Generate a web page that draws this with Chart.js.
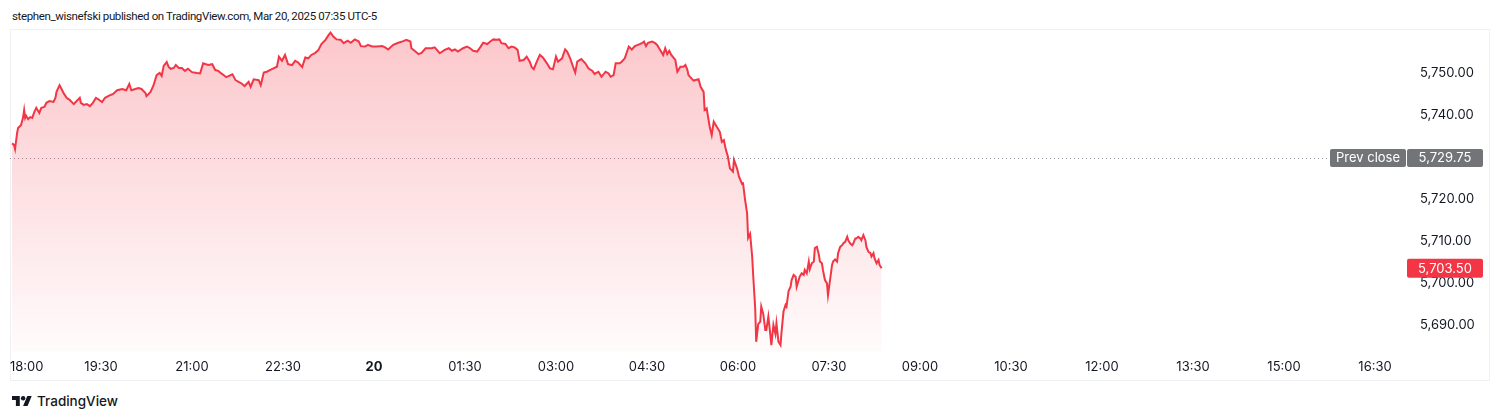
<!DOCTYPE html>
<html>
<head>
<meta charset="utf-8">
<script src="https://cdn.jsdelivr.net/npm/chart.js@4.4.1/dist/chart.umd.min.js"></script>
<style>
  html, body { margin:0; padding:0; background:#fff; width:1500px; height:420px; overflow:hidden;
    font-family: Inter, "Noto Sans", "DejaVu Sans", sans-serif; color:#131722; }
  #hdr { position:absolute; left:12px; top:9px; font-family: Roboto, Inter, sans-serif; font-size:11.5px; letter-spacing:-0.37px; line-height:14px; white-space:nowrap; }
  #box { position:absolute; left:10px; top:29px; width:1480px; height:352px; border:1px solid #eef0f4; box-sizing:border-box; }
  #wrap { position:absolute; left:10px; top:30px; width:1480px; height:352px; }
  #foot { position:absolute; left:12px; top:393px; height:16px; display:flex; align-items:center; font-size:13.5px; font-weight:500; white-space:nowrap; }
  #foot svg { margin-right:5px; }
</style>
</head>
<body>
<div id="hdr">stephen_wisnefski published on TradingView.com, Mar 20, 2025 07:35 UTC-5</div>
<div id="box"></div>
<div id="wrap"><canvas id="c" width="1480" height="352"></canvas></div>
<div id="foot"><svg width="20" height="10" viewBox="0 4 36 18"><path fill="#131722" d="M14 22H7V11H0V4h14v18zM28 22h-8l7.5-18h8L28 22z"/><circle fill="#131722" cx="20" cy="8" r="4"/></svg>TradingView</div>
<script>
// Minutes since 18:00 (Mar 19) and ES price
const minutes = [2,4,5,7,8,11,13,14,15,16,18,20,22,24,26,29,31,34,36,39,43,45,46,49,51,53,56,59,63,65,69,70,73,76,79,82,85,87,91,94,97,102,106,111,115,118,120,124,127,130,134,135,139,142,145,148,150,152,155,157,159,162,164,167,170,173,176,180,185,188,191,196,200,203,206,209,214,220,223,226,229,232,236,238,241,246,248,251,254,259,264,266,269,272,275,279,282,285,289,292,295,298,302,305,308,312,315,317,320,323,327,330,334,337,341,345,347,351,354,358,363,368,371,374,379,384,389,392,396,397,401,404,407,411,417,420,425,430,434,437,440,443,448,452,455,458,462,465,468,472,475,478,481,484,486,490,493,496,499,502,504,508,511,514,516,518,521,524,527,531,534,537,540,542,546,549,551,554,557,559,561,565,569,572,576,578,582,585,589,592,594,597,599,603,605,608,612,615,618,621,625,627,629,631,635,638,640,643,646,648,650,652,654,658,660,663,666,668,670,671,676,681,683,686,687,689,692,694,696,699,702,704,706,708,710,712,715,716,719,721,724,725,727,729,730,732,734,735,737,738,740,742,743,745,747,748,750,752,753,755,757,758,760,762,763,765,767,768,770,772,773,775,777,778,780,781,783,785,786,788,790,791,793,795,796,798,800,801,803,804,806,808,809,811,813,814,816,818,819,821,823,824,826,828,829,831,833,834,836,837,839,841,842,844,846,847,849,851,852,854,855,857,859,860,862];
const prices = [5733.25,5732.9,5731.9,5735.7,5736.9,5737.6,5739.5,5741.2,5739.3,5739.8,5739.0,5739.5,5739.3,5740.7,5741.7,5740.5,5741.7,5741.9,5742.9,5743.3,5743.1,5744.1,5745.5,5747.1,5746.2,5745.2,5744.1,5743.6,5742.6,5743.1,5744.1,5742.9,5742.4,5742.6,5742.1,5742.9,5744.1,5743.8,5743.1,5744.1,5744.5,5745.0,5745.9,5746.2,5745.9,5747.4,5745.9,5746.2,5746.4,5746.2,5745.2,5744.5,5745.5,5747.1,5749.5,5750.0,5749.3,5751.7,5752.6,5751.4,5751.0,5751.2,5751.9,5751.2,5751.2,5750.5,5751.0,5750.2,5750.0,5749.9,5752.3,5751.9,5752.1,5750.7,5750.5,5749.9,5749.0,5749.7,5748.3,5747.9,5747.5,5746.9,5747.9,5746.7,5748.5,5748.3,5747.1,5750.1,5750.3,5750.9,5751.5,5753.9,5752.9,5754.3,5752.1,5751.9,5752.9,5752.5,5751.4,5753.7,5753.5,5754.3,5754.8,5755.5,5756.9,5757.9,5759.0,5759.6,5758.6,5758.0,5757.9,5757.1,5757.7,5757.2,5758.0,5757.5,5756.4,5756.3,5756.7,5756.3,5756.3,5756.4,5756.1,5755.6,5756.7,5757.2,5757.6,5757.9,5757.5,5755.9,5755.1,5754.5,5754.8,5755.9,5755.9,5756.1,5754.7,5755.5,5755.9,5755.3,5755.6,5755.1,5755.9,5756.3,5755.9,5755.3,5755.1,5756.1,5757.2,5756.9,5757.5,5758.0,5757.9,5758.0,5757.1,5756.9,5755.9,5756.3,5756.1,5755.5,5752.9,5753.1,5753.9,5752.7,5751.4,5750.9,5752.7,5754.3,5753.7,5752.3,5751.1,5750.9,5753.9,5752.7,5753.5,5755.6,5755.1,5753.5,5751.4,5750.1,5752.7,5753.3,5752.3,5751.1,5750.5,5749.8,5750.3,5749.1,5750.3,5749.9,5749.1,5749.5,5752.3,5752.3,5752.7,5753.5,5756.3,5755.6,5756.4,5756.7,5757.1,5757.5,5756.4,5757.2,5757.5,5757.1,5756.7,5755.5,5754.3,5755.9,5754.5,5755.3,5754.3,5753.1,5750.3,5751.5,5751.5,5751.9,5750.7,5749.5,5748.2,5748.5,5746.7,5745.5,5741.2,5741.6,5737.2,5735.2,5738.4,5737.2,5736.0,5733.6,5734.0,5731.7,5730.1,5727.3,5726.5,5729.3,5727.3,5725.3,5723.6,5723.7,5719.8,5716.6,5710.7,5711.7,5706.3,5701.9,5694.0,5686.0,5690.2,5690.8,5694.4,5692.6,5688.8,5688.8,5692.0,5687.6,5685.2,5690.0,5687.9,5690.4,5686.0,5685.2,5688.2,5693.2,5694.8,5694.4,5698.1,5699.1,5700.7,5701.9,5701.5,5699.1,5700.7,5701.5,5702.3,5701.9,5703.1,5702.3,5705.1,5703.3,5704.7,5705.1,5708.3,5708.6,5706.7,5705.1,5704.7,5703.1,5700.7,5699.9,5697.1,5700.7,5704.3,5705.1,5705.6,5705.1,5707.1,5708.6,5709.0,5709.4,5709.8,5711.0,5710.2,5709.4,5709.0,5709.4,5710.6,5710.6,5711.0,5710.6,5710.2,5711.4,5710.2,5708.6,5707.4,5707.1,5706.3,5707.1,5705.9,5704.7,5705.5,5704.3,5703.5];
const xTickMinutes = [0,90,180,270,360,450,540,630,720,810,900,990,1080,1170,1260,1350];
const xTickLabels = ['18:00','19:30','21:00','22:30','20','01:30','03:00','04:30','06:00','07:30','09:00','10:30','12:00','13:30','15:00','16:30'];
const yTickValues = [5750,5740,5720,5710,5700,5690];
const prevClose = 5729.75;
const prevCloseLabel = 'Prev close';
const lastPrice = prices[prices.length - 1];

const X_MAX = 1384.6, Y_MIN = 5683.57, Y_MAX = 5760;
const RED = '#f23645';
const FONT = "Inter, 'Noto Sans', sans-serif";
const fmt = v => v.toLocaleString('en-US', {minimumFractionDigits:2, maximumFractionDigits:2});

function roundBox(ctx, x, y, w, h, r, color) {
  ctx.fillStyle = color;
  ctx.beginPath();
  if (ctx.roundRect) ctx.roundRect(x, y, w, h, r); else ctx.rect(x, y, w, h);
  ctx.fill();
}

const priceMarks = {
  id: 'priceMarks',
  beforeDatasetsDraw(chart) {
    const {ctx, chartArea, scales:{y}} = chart;
    const py = Math.round(y.getPixelForValue(prevClose)) + 0.5;
    ctx.save();
    ctx.strokeStyle = '#9598a1';
    ctx.lineWidth = 1;
    ctx.setLineDash([1, 3]);
    ctx.beginPath();
    ctx.moveTo(chartArea.left, py);
    ctx.lineTo(1318, py);
    ctx.stroke();
    ctx.restore();
  },
  afterDraw(chart) {
    const {ctx, scales:{y}} = chart;
    ctx.save();
    ctx.font = "13px " + FONT;
    ctx.textBaseline = 'middle';
    ctx.textAlign = 'center';
    const py = y.getPixelForValue(prevClose);
    roundBox(ctx, 1320, py - 9, 76, 18, 2, '#737478');
    roundBox(ctx, 1397, py - 9, 76, 18, 2, '#737478');
    ctx.fillStyle = '#ffffff';
    ctx.fillText(prevCloseLabel, 1358, py + 0.5);
    ctx.fillText(fmt(prevClose), 1435, py + 0.5);
    const ly = y.getPixelForValue(lastPrice);
    roundBox(ctx, 1397, ly - 9.5, 76, 19, 2, RED);
    ctx.fillStyle = '#ffffff';
    ctx.fillText(fmt(lastPrice), 1435, ly + 0.5);
    ctx.restore();
  }
};

new Chart(document.getElementById('c'), {
  type: 'line',
  data: {
    datasets: [{
      data: minutes.map((m, i) => ({x: m, y: prices[i]})),
      borderColor: RED,
      borderWidth: 2,
      pointRadius: 0,
      tension: 0,
      fill: 'start',
      backgroundColor: (c) => {
        const a = c.chart.chartArea;
        if (!a) return 'rgba(242,54,69,0.15)';
        const g = c.chart.ctx.createLinearGradient(0, a.top, 0, a.bottom);
        g.addColorStop(0, 'rgba(242,54,69,0.28)');
        g.addColorStop(1, 'rgba(242,54,69,0.02)');
        return g;
      }
    }]
  },
  options: {
    responsive: false,
    animation: false,
    devicePixelRatio: 1,
    layout: { padding: { left: 0, right: 14, top: 1, bottom: 0 } },
    plugins: { legend: { display: false }, tooltip: { enabled: false } },
    scales: {
      x: {
        type: 'linear', position: 'bottom', min: 0, max: X_MAX,
        grid: { display: false, drawTicks: false },
        border: { display: false },
        afterBuildTicks: (s) => { s.ticks = xTickMinutes.concat([X_MAX]).map(v => ({value: v})); },
        afterFit: (s) => { s.height = 30; s.paddingLeft = 0; s.paddingRight = 0; },
        ticks: {
          autoSkip: false, maxRotation: 0, align: 'inner', padding: 7, color: '#131722',
          font: (c) => ({ family: FONT, size: 13, weight: (c.tick && c.tick.value === 360) ? 'bold' : 'normal' }),
          callback: (v, i) => (i < xTickLabels.length ? xTickLabels[i] : '')
        }
      },
      y: {
        type: 'linear', position: 'right', min: Y_MIN, max: Y_MAX,
        grid: { display: false, drawTicks: false },
        border: { display: false },
        afterBuildTicks: (s) => { s.ticks = yTickValues.map(v => ({value: v})); },
        afterFit: (s) => { s.width = 66; s.paddingTop = 0; s.paddingBottom = 0; },
        ticks: { padding: 10, color: '#131722', font: { family: FONT, size: 13 }, callback: (v) => fmt(v) }
      }
    }
  },
  plugins: [priceMarks]
});
</script>
</body>
</html>
